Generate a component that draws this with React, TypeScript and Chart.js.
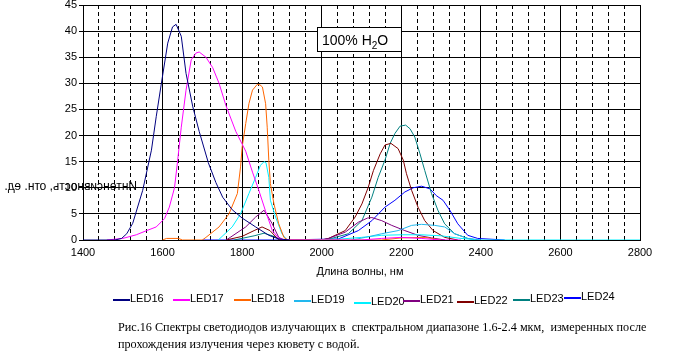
import { useEffect, useRef } from "react";
import { Chart, registerables } from "chart.js";
Chart.register(...registerables);

// ---- data ----
const legendLabels = ["LED16", "LED17", "LED18", "LED19", "LED20", "LED21", "LED22", "LED23", "LED24"];
const seriesColors = ["#000080", "#FF00FF", "#FF6600", "#22B8EE", "#00F0FF", "#800080", "#800000", "#008080", "#0000FF"];

const xMajorLabels = [1400, 1600, 1800, 2000, 2200, 2400, 2600, 2800];
const yTickValues = [0, 5, 10, 15, 20, 25, 30, 35, 40, 45];

const led16Wl = [1400, 1480, 1497, 1510, 1525, 1550, 1572, 1584, 1597, 1613, 1625, 1634, 1647, 1659, 1676, 1692, 1715, 1734, 1751, 1775, 1800, 1834, 1867, 1892, 1920];
const led16Val = [0, 0, 0.3, 1.2, 3.2, 9.5, 17.2, 23.6, 30, 37.7, 40.8, 41.3, 39, 31.9, 25.5, 20.8, 14.8, 11, 8.2, 5.8, 4.2, 2.5, 0.9, 0.2, 0];

const led17Wl = [1460, 1500, 1534, 1560, 1584, 1605, 1617, 1630, 1638, 1647, 1659, 1672, 1684, 1692, 1709, 1726, 1742, 1759, 1784, 1809, 1826, 1842, 1859, 1876, 1892, 1910, 2100, 2150, 2200, 2250, 2300, 2350];
const led17Val = [0, 0.3, 1, 1.8, 2.5, 4.1, 6.3, 10, 15.3, 21.6, 28.7, 34.5, 35.8, 36, 35, 33, 30, 25.8, 20.8, 17, 13, 9.5, 5.5, 1.8, 0.3, 0, 0, 0.3, 0.5, 0.3, 0, 0];

const led18Wl = [1600, 1610, 1640, 1650, 1700, 1709, 1742, 1767, 1788, 1796, 1800, 1809, 1817, 1826, 1838, 1845, 1851, 1859, 1863, 1867, 1871, 1880, 1892, 1905, 1915, 2150, 2200, 2260, 2300];
const led18Val = [0, 0.3, 0.3, 0, 0, 0.5, 2.5, 5, 8.9, 14, 17.8, 22.3, 26.1, 28.7, 29.8, 29.7, 29.3, 26.1, 21.6, 15.3, 10.8, 6.9, 3.1, 0.5, 0, 0, 0.4, 0.5, 0];

const led19Wl = [2075, 2110, 2151, 2192, 2226, 2251, 2284, 2309, 2334, 2367, 2400];
const led19Val = [0, 0.5, 1.2, 1.8, 2.8, 3, 2.8, 2.5, 1.2, 0.3, 0];

const led20Wl = [1740, 1775, 1796, 1817, 1834, 1846, 1855, 1860, 1867, 1871, 1884, 1900, 1913, 1980, 2050, 2100, 2150, 2200, 2250, 2300, 2350, 2400, 2800];
const led20Val = [0, 2.5, 5, 8.9, 12, 14.3, 15, 14.8, 12, 7.6, 4.4, 1.2, 0, 0, 0.2, 0.5, 0.9, 1.0, 1.0, 0.8, 0.3, 0, 0];

const led21Wl = [1760, 1770, 1809, 1834, 1855, 1875, 1892, 1905, 2000, 2017, 2059, 2092, 2115, 2126, 2151, 2176, 2209, 2242, 2276, 2310];
const led21Val = [0, 0.5, 2.5, 4.4, 5.7, 3.2, 0.5, 0, 0, 0.3, 1.5, 3.4, 4.2, 4.3, 3.7, 2.8, 1.8, 0.9, 0.4, 0];

const led22Wl = [1760, 1800, 1830, 1850, 1870, 1892, 2000, 2017, 2059, 2084, 2101, 2117, 2130, 2147, 2159, 2174, 2192, 2205, 2213, 2226, 2242, 2259, 2280, 2309, 2342];
const led22Val = [0, 0.7, 1.8, 2.5, 1.8, 0, 0, 0.3, 1.8, 4.4, 6.9, 10.1, 13.3, 16.5, 18.2, 18.5, 17.5, 15.3, 12.7, 9.5, 6.3, 3.7, 1.8, 0.5, 0];

const led23Wl = [1780, 1830, 1855, 1880, 1900, 2000, 2025, 2067, 2101, 2126, 2142, 2159, 2172, 2184, 2197, 2211, 2222, 2234, 2247, 2259, 2276, 2292, 2309, 2334, 2367, 2390];
const led23Val = [0, 0.8, 1.3, 0.7, 0, 0, 0.3, 1.2, 3.7, 8.2, 12, 15.3, 18.5, 20.4, 21.8, 22, 21.3, 19.7, 16.5, 13.3, 8.9, 5.7, 3.1, 1.2, 0.3, 0];

const led24Wl = [1700, 1900, 2042, 2092, 2126, 2159, 2184, 2209, 2230, 2251, 2272, 2288, 2305, 2322, 2342, 2367, 2392, 2460];
const led24Val = [0, 0, 0.2, 1.8, 3.7, 6.3, 7.6, 9.2, 10, 10.3, 9.8, 8.5, 7.6, 5.7, 3.1, 0.9, 0.3, 0];

const seriesWl = [led16Wl, led17Wl, led18Wl, led19Wl, led20Wl, led21Wl, led22Wl, led23Wl, led24Wl];
const seriesVal = [led16Val, led17Val, led18Val, led19Val, led20Val, led21Val, led22Val, led23Val, led24Val];

const yTitle = "Интенсивность, отн. ед.";
const xTitle = "Длина волны, нм";
const captionLines = [
  "Рис.16 Спектры светодиодов излучающих в  спектральном диапазоне 1.6-2.4 мкм,  измеренных после",
  "прохождения излучения через кювету с водой.",
];

// ---- layout (not data) ----
const legendX = [113, 173, 234, 294, 354, 403, 457, 513, 564];
const legendDy = [0, 0, 0, 1, 3, 1, 2, 0, -2];
const SANS = '"Liberation Sans", Arial, sans-serif';

const decor = {
  id: "decor",
  afterDraw(chart: any) {
    const ctx = chart.ctx as CanvasRenderingContext2D;
    ctx.save();
    // title box
    ctx.fillStyle = "#fff";
    ctx.fillRect(317.5, 27.5, 84, 24);
    ctx.strokeStyle = "#000";
    ctx.lineWidth = 1;
    ctx.strokeRect(317.5, 27.5, 84, 24);
    ctx.fillStyle = "#000";
    ctx.textBaseline = "alphabetic";
    ctx.textAlign = "left";
    ctx.font = `14px ${SANS}`;
    let tx = 322;
    ctx.fillText("100% H", tx, 45);
    tx += ctx.measureText("100% H").width;
    ctx.font = `10px ${SANS}`;
    ctx.fillText("2", tx, 49);
    tx += ctx.measureText("2").width;
    ctx.font = `14px ${SANS}`;
    ctx.fillText("O", tx, 45);

    // mirrored y title
    ctx.save();
    ctx.font = `12px ${SANS}`;
    ctx.textBaseline = "middle";
    ctx.translate(137, 187);
    ctx.scale(-1, 1);
    ctx.fillText(yTitle, 0, 0);
    ctx.restore();

    // x title
    ctx.font = `11px ${SANS}`;
    ctx.textAlign = "center";
    ctx.textBaseline = "middle";
    ctx.fillText(xTitle, 360, 272);

    // legend
    ctx.textAlign = "left";
    chart.data.datasets.forEach((ds: any, i: number) => {
      const x0 = legendX[i];
      const y = 300 + legendDy[i];
      ctx.strokeStyle = ds.borderColor;
      ctx.lineWidth = 2;
      ctx.beginPath();
      ctx.moveTo(x0, y);
      ctx.lineTo(x0 + 17, y);
      ctx.stroke();
      ctx.fillStyle = "#000";
      ctx.font = `11px ${SANS}`;
      ctx.fillText(ds.label, x0 + 17, y - 1);
    });

    // caption
    ctx.font = `13px "Liberation Serif", "Times New Roman", serif`;
    const w = ctx.measureText(captionLines[0]).width;
    const size = (13 * 529) / w;
    ctx.font = `${size.toFixed(2)}px "Liberation Serif", "Times New Roman", serif`;
    ctx.textBaseline = "alphabetic";
    ctx.fillText(captionLines[0], 118, 331);
    ctx.fillText(captionLines[1], 118, 348);
    ctx.restore();
  },
};

export default function App() {
  const ref = useRef<HTMLCanvasElement | null>(null);
  useEffect(() => {
    document.body.style.margin = "0";
    const canvas = ref.current!;
    const chart = new Chart(canvas, {
      type: "line",
      data: {
        datasets: legendLabels.map((label, i) => ({
          label,
          data: seriesWl[i].map((x, j) => ({ x, y: seriesVal[i][j] })),
          borderColor: seriesColors[i],
          backgroundColor: seriesColors[i],
          borderWidth: 1,
          pointRadius: 0,
          tension: 0,
          fill: false,
        })),
      },
      options: {
        animation: false,
        responsive: false,
        devicePixelRatio: 1,
        layout: { padding: { left: 0, right: 37, top: 5, bottom: 0 } },
        plugins: { legend: { display: false }, tooltip: { enabled: false }, title: { display: false } },
        scales: {
          x: {
            type: "linear",
            min: 1400,
            max: 2800,
            ticks: {
              stepSize: 40,
              autoSkip: false,
              maxRotation: 0,
              padding: 6,
              color: "#000",
              font: { family: SANS, size: 11 },
              callback: (v: any) => (xMajorLabels.includes(Number(v)) ? String(v) : ""),
            },
            grid: {
              color: "#000",
              lineWidth: 1,
              drawTicks: false,
            },
            border: {
              color: "#000",
              dash: (c: any) => (c.tick && !xMajorLabels.includes(c.tick.value) ? [4, 3] : []),
            },
            afterFit: (s: any) => {
              s.height = 117;
              s.paddingRight = 0;
            },
          },
          y: {
            min: 0,
            max: 45,
            afterBuildTicks: (s: any) => {
              s.ticks = yTickValues.map((value) => ({ value }));
            },
            ticks: {
              color: "#000",
              padding: 2,
              font: { family: SANS, size: 11 },
            },
            grid: { color: "#000", lineWidth: 1, tickLength: 4 },
            border: { color: "#000" },
            afterFit: (s: any) => {
              s.width = 83;
              s.paddingTop = 0;
              s.paddingBottom = 0;
            },
          },
        },
      },
      plugins: [decor],
    });
    return () => chart.destroy();
  }, []);
  return <canvas ref={ref} width={677} height={357} style={{ display: "block", width: 677, height: 357 }} />;
}
